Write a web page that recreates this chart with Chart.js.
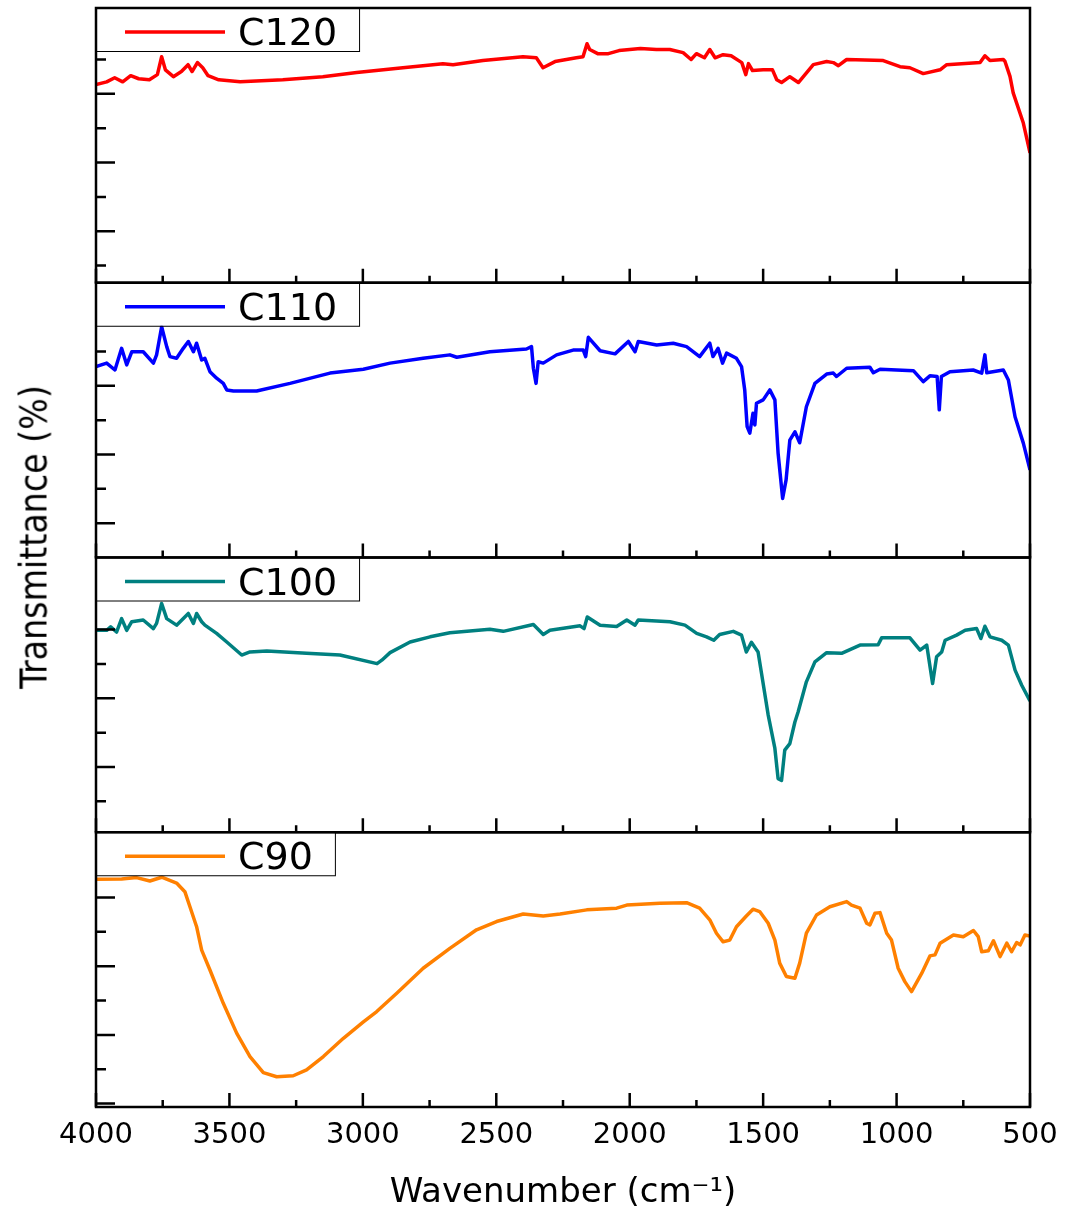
<!DOCTYPE html>
<html>
<head>
<meta charset="utf-8">
<script src="https://cdn.jsdelivr.net/npm/chart.js@4.4.0/dist/chart.umd.min.js"></script>
<style>
  body { margin: 0; background: #fff; }
  #wrap { position: relative; width: 1069px; height: 1219px; }
  #ytitle {
    position: absolute; left: 34px; top: 537px;
    transform: translate(-50%, -50%) rotate(-90deg);
    white-space: nowrap; color: #000; font-size: 37px;
    font-family: 'Liberation Sans Narrow', 'DejaVu Sans Condensed', 'Liberation Sans', sans-serif;
  }
</style>
</head>
<body>
<div id="wrap">
  <canvas id="ftir" width="1069" height="1219"></canvas>
  <div id="ytitle">Transmittance (%)</div>
</div>
<script>
// FTIR spectra, one panel per sample (top to bottom)
const seriesNames = ['C120', 'C110', 'C100', 'C90'];
const seriesColors = ['#ff0000', '#0000ff', '#008080', '#ff8000'];

const c120Wave = [4000, 3960, 3930, 3900, 3870, 3840, 3800, 3770, 3754, 3740, 3710, 3680, 3655, 3640, 3620, 3600,
  3580, 3540, 3460, 3300, 3150, 3023, 2850, 2700, 2662, 2550, 2400, 2350, 2325, 2280, 2200, 2175, 2160, 2150,
  2120, 2080, 2040, 2000, 1960, 1900, 1850, 1800, 1770, 1750, 1720, 1700, 1680, 1650, 1620, 1580, 1565, 1555,
  1540, 1500, 1465, 1449, 1431, 1400, 1368, 1312, 1262, 1237, 1218, 1187, 1050, 987, 950, 900, 837, 812, 687,
  669, 650, 600, 594, 575, 563, 525, 500];
const c120T = [57.7, 58.5, 59.7, 58.5, 60.3, 59.4, 59.1, 60.6, 65.8, 62.0, 60.0, 61.5, 63.5, 61.5, 64.1, 62.6,
  60.3, 59.1, 58.5, 59.1, 60.0, 61.2, 62.6, 63.8, 63.5, 64.7, 65.8, 65.5, 62.6, 64.4, 65.5, 65.8, 69.6, 67.9,
  66.7, 66.7, 67.6, 67.9, 68.2, 67.9, 67.9, 67.0, 65.0, 66.7, 65.5, 67.9, 65.5, 66.4, 66.1, 64.1, 60.6, 63.8,
  61.8, 62.0, 62.0, 59.1, 58.3, 60.0, 58.3, 63.5, 64.4, 64.1, 63.2, 65.0, 64.7, 62.9, 62.6, 60.9, 62.0, 63.5, 64.1,
  66.1, 64.7, 65.0, 64.5, 60.1, 55.3, 46.5, 37.8];

const c110Wave = [4000, 3960, 3929, 3904, 3885, 3866, 3823, 3785, 3773, 3754, 3735, 3723, 3698, 3673, 3654, 3635,
  3623, 3604, 3592, 3573, 3548, 3523, 3510, 3485, 3398, 3273, 3123, 2998, 2898, 2774, 2674, 2648, 2524, 2387,
  2368, 2361, 2351, 2343, 2324, 2274, 2212, 2174, 2165, 2155, 2111, 2055, 2005, 1980, 1968, 1899, 1837, 1787,
  1738, 1700, 1688, 1669, 1652, 1637, 1600, 1581, 1569, 1560, 1550, 1538, 1531, 1525, 1500, 1475, 1456, 1444,
  1427, 1414, 1400, 1381, 1363, 1338, 1306, 1262, 1237, 1225, 1187, 1100, 1087, 1062, 937, 900, 875, 848, 840,
  832, 800, 713, 681, 669, 662, 600, 581, 556, 525, 500];
const c110T = [55.6, 56.6, 54.6, 60.9, 56.1, 59.9, 59.9, 56.6, 59.0, 67.2, 61.4, 58.5, 58.0, 60.9, 62.9, 59.9,
  62.4, 57.5, 58.0, 54.1, 52.2, 50.7, 48.8, 48.5, 48.5, 50.7, 53.7, 54.8, 56.6, 58.0, 59.0, 58.3, 59.9, 60.7,
  61.4, 55.1, 50.7, 57.0, 56.6, 59.0, 60.4, 60.4, 58.5, 64.1, 60.2, 59.3, 62.9, 59.9, 62.9, 61.9, 62.4, 61.4,
  58.5, 62.4, 58.5, 60.9, 56.6, 59.5, 58.0, 55.6, 48.8, 38.1, 36.2, 42.0, 38.6, 44.9, 45.9, 48.8, 45.9, 30.4,
  17.2, 22.6, 34.2, 36.6, 33.4, 43.9, 50.7, 53.4, 53.7, 52.7, 55.1, 55.4, 53.8, 54.8, 54.4, 51.2, 52.9, 52.7, 43.0,
  52.7, 54.1, 54.6, 53.7, 59.0, 53.8, 54.6, 51.7, 41.0, 33.3, 25.5];

const c100Wave = [4000, 3960, 3945, 3923, 3904, 3885, 3866, 3823, 3785, 3773, 3754, 3735, 3698, 3654, 3635, 3623,
  3604, 3592, 3548, 3510, 3454, 3423, 3360, 3211, 3086, 2947, 2929, 2898, 2823, 2748, 2674, 2524, 2474, 2361,
  2324, 2299, 2186, 2171, 2159, 2111, 2049, 2011, 1980, 1968, 1849, 1793, 1749, 1712, 1685, 1663, 1612, 1581,
  1563, 1544, 1519, 1506, 1481, 1456, 1444, 1431, 1419, 1400, 1381, 1369, 1338, 1306, 1262, 1206, 1137, 1069,
  1056, 950, 912, 887, 865, 850, 831, 818, 775, 743, 700, 684, 669, 650, 606, 581, 556, 531, 500];
const c100T = [58.8, 58.8, 59.8, 58.3, 62.2, 58.8, 61.3, 61.8, 59.3, 60.8, 66.6, 62.2, 60.3, 63.7, 60.8, 63.7,
  61.3, 60.3, 57.9, 55.4, 51.6, 52.5, 52.8, 52.1, 51.6, 49.1, 50.1, 52.3, 55.4, 56.9, 58.1, 59.1, 58.5, 60.5,
  57.6, 58.8, 60.1, 59.3, 62.7, 60.3, 59.9, 61.8, 60.3, 61.8, 61.3, 60.3, 57.9, 56.9, 55.9, 57.6, 58.5, 57.4,
  52.5, 55.3, 52.5, 46.2, 34.1, 24.4, 15.6, 15.1, 23.9, 25.8, 32.1, 35.0, 43.8, 49.6, 52.3, 52.1, 54.5, 54.6,
  56.6, 56.6, 53.0, 54.5, 43.3, 51.1, 52.5, 55.9, 57.4, 58.8, 59.3, 56.4, 60.0, 56.9, 55.9, 54.5, 47.2, 42.8, 38.2];

const c90Wave = [4000, 3904, 3848, 3798, 3754, 3698, 3667, 3648, 3623, 3604, 3573, 3523, 3473, 3423, 3373, 3323,
  3261, 3211, 3148, 3073, 2998, 2948, 2873, 2774, 2674, 2574, 2499, 2399, 2324, 2261, 2161, 2049, 2011, 1887,
  1787, 1738, 1700, 1675, 1650, 1625, 1600, 1563, 1538, 1513, 1481, 1456, 1438, 1413, 1381, 1363, 1338, 1300,
  1250, 1187, 1169, 1137, 1112, 1100, 1081, 1062, 1037, 1019, 994, 969, 944, 906, 875, 856, 837, 787, 750, 712,
  694, 681, 656, 637, 612, 587, 569, 550, 537, 519, 500];
const c90T = [66.3, 66.4, 66.8, 65.8, 66.9, 65.2, 62.7, 58.3, 52.5, 45.7, 39.9, 30.2, 21.5, 14.7, 10.0, 8.8,
  9.1, 10.8, 14.7, 20.0, 24.8, 27.8, 33.1, 40.4, 46.2, 51.6, 54.0, 56.2, 55.6, 56.2, 57.4, 57.9, 58.8, 59.3,
  59.5, 57.9, 54.5, 50.6, 48.1, 48.6, 52.5, 55.6, 57.6, 56.9, 53.5, 48.6, 41.9, 38.0, 37.5, 41.9, 50.6, 55.9,
  58.3, 59.8, 58.8, 57.9, 53.5, 53.0, 56.4, 56.6, 50.6, 48.6, 40.4, 36.5, 33.6, 38.9, 44.0, 44.3, 47.7, 50.1, 49.6, 51.4,
  49.6, 45.2, 45.5, 48.4, 43.8, 47.7, 45.2, 47.9, 47.2, 50.1, 49.8];

const xTickLabels = [4000, 3500, 3000, 2500, 2000, 1500, 1000, 500];

// unlabelled left ticks of each panel (long = major)
const c120Ticks = [5, 15, 25, 35, 45, 55, 65, 75];
const c120Major = [15, 35, 55, 75];
const c110Ticks = [10, 20, 30, 40, 50, 60, 70];
const c110Major = [10, 30, 50, 70];
const c100Ticks = [9, 19, 29, 39, 49, 59, 69];
const c100Major = [19, 39, 59];
const c90Ticks = [1, 11, 21, 31, 41, 51, 61, 71];
const c90Major = [1, 21, 41, 61];

const waves = [c120Wave, c110Wave, c100Wave, c90Wave];
const trans = [c120T, c110T, c100T, c90T];
const yTicks = [c120Ticks, c110Ticks, c100Ticks, c90Ticks];
const yMajor = [c120Major, c110Major, c100Major, c90Major];

function toPoints(wave, t) {
  return wave.map((w, i) => ({ x: w, y: t[i] }));
}

const panelFrames = {
  id: 'panelFrames',
  afterDatasetsDraw(chart) {
    const { ctx, chartArea, scales } = chart;
    const left = chartArea.left, right = chartArea.right;
    const xs = scales.x;
    ctx.save();
    seriesNames.forEach((name, i) => {
      const ys = scales['y' + i];
      const top = ys.top, bottom = ys.bottom;

      // inward ticks
      ctx.strokeStyle = '#000';
      ctx.lineWidth = 2.5;
      ctx.beginPath();
      for (let w = 500; w <= 4000; w += 250) {
        const px = xs.getPixelForValue(w);
        const len = w % 500 === 0 ? 14 : 7;
        ctx.moveTo(px, bottom);
        ctx.lineTo(px, bottom - len);
      }
      yTicks[i].forEach(v => {
        const py = ys.getPixelForValue(v);
        const len = yMajor[i].includes(v) ? 19 : 10;
        ctx.moveTo(left, py);
        ctx.lineTo(left + len, py);
      });
      ctx.stroke();

      // legend box
      const ds = chart.data.datasets[i];
      ctx.font = '38px "DejaVu Sans"';
      const textX = left + 142;
      const boxW = textX + ctx.measureText(ds.label).width + 22 - left;
      ctx.fillStyle = '#fff';
      ctx.fillRect(left, top, boxW, 43);
      ctx.lineWidth = 1;
      ctx.strokeStyle = '#000';
      ctx.strokeRect(left + 0.5, top + 0.5, boxW, 43);
      ctx.beginPath();
      ctx.strokeStyle = ds.borderColor;
      ctx.lineWidth = 3.5;
      ctx.moveTo(left + 29, top + 24);
      ctx.lineTo(left + 129, top + 24);
      ctx.stroke();
      ctx.fillStyle = '#000';
      ctx.textBaseline = 'alphabetic';
      ctx.fillText(ds.label, textX, top + 37);

      // frame
      ctx.strokeStyle = '#000';
      ctx.lineWidth = 2.5;
      ctx.strokeRect(left, top, right - left, bottom - top);
    });
    ctx.restore();
  }
};

const scales = {
  x: {
    type: 'linear',
    position: 'bottom',
    min: 500,
    max: 4000,
    reverse: true,
    afterBuildTicks: s => { s.ticks = xTickLabels.map(v => ({ value: v })); },
    afterFit: s => { s.height = 112; },
    grid: { display: false, drawTicks: false },
    border: { display: false },
    ticks: {
      padding: 11, color: '#000', autoSkip: false, maxRotation: 0,
      font: { family: 'DejaVu Sans', size: 29 },
      callback: v => String(v)
    },
    title: {
      display: true, text: 'Wavenumber (cm⁻¹)', color: '#000',
      font: { family: 'DejaVu Sans', size: 34 },
      padding: { top: 0, bottom: 5 }
    }
  }
};
seriesNames.forEach((n, i) => {
  scales['y' + i] = {
    type: 'linear',
    position: 'left',
    stack: 'panels',
    stackWeight: 1,
    weight: seriesNames.length - i,
    min: 0,
    max: 80,
    grid: { display: false, drawTicks: false },
    border: { display: false },
    ticks: { display: false },
    afterFit: s => { s.width = 0; }
  };
});

new Chart('ftir', {
  type: 'line',
  data: {
    datasets: seriesNames.map((name, i) => ({
      label: name,
      data: toPoints(waves[i], trans[i]),
      xAxisID: 'x',
      yAxisID: 'y' + i,
      borderColor: seriesColors[i],
      borderWidth: 3.5,
      borderJoinStyle: 'round',
      pointRadius: 0,
      tension: 0,
      fill: false
    }))
  },
  options: {
    responsive: false,
    animation: false,
    events: [],
    layout: { padding: { left: 96, right: 39, top: 8, bottom: 0 } },
    plugins: { legend: { display: false }, tooltip: { enabled: false }, title: { display: false } },
    scales: scales
  },
  plugins: [panelFrames]
});
</script>
</body>
</html>
